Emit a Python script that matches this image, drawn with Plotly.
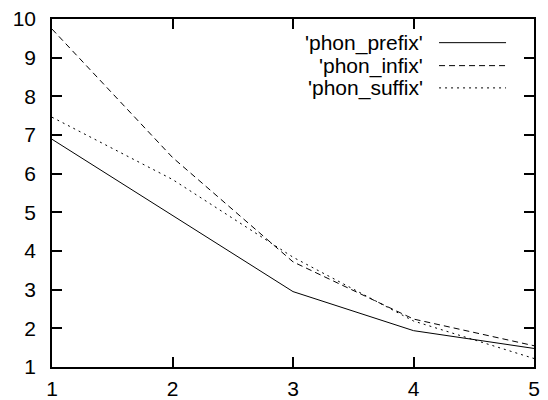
import plotly.graph_objects as go

x_vals = [1, 2, 3, 4, 5]
phon_prefix = [6.89, 4.92, 2.95, 1.94, 1.48]
phon_infix = [9.74, 6.42, 3.72, 2.24, 1.55]
phon_suffix = [7.46, 5.85, 3.84, 2.19, 1.22]
series_names = ["'phon_prefix'", "'phon_infix'", "'phon_suffix'"]
dashes = ["solid", "6px,4px", "2px,4px"]

FONT = "Liberation Sans, Arial, sans-serif"

fig = go.Figure()
for name, ys, d in zip(series_names, [phon_prefix, phon_infix, phon_suffix], dashes):
    fig.add_trace(go.Scatter(x=x_vals, y=ys, mode="lines", name=name,
                             line=dict(color="black", width=1, dash=d),
                             showlegend=False))

# manual gnuplot-style legend (text right-aligned, sample line to the right)
legend_y = [0.932, 0.866, 0.802]
for name, d, ly in zip(series_names, dashes, legend_y):
    fig.add_annotation(x=0.767, y=ly, xref="paper", yref="paper", text=name,
                       showarrow=False, xanchor="right", yanchor="middle",
                       xshift=3,
                       font=dict(family=FONT, size=21, color="black"))
    fig.add_shape(type="line", xref="paper", yref="paper", x0=0.803, x1=0.942,
                  y0=ly, y1=ly, line=dict(color="black", width=1, dash=d))

axis_common = dict(showgrid=False, zeroline=False, showline=True, linecolor="black",
                   linewidth=1.5, mirror="allticks", ticks="inside", ticklen=10,
                   tickwidth=1.5, tickcolor="black", automargin=False,
                   tickfont=dict(family=FONT, size=21, color="black"))

fig.update_layout(
    width=548, height=400,
    margin=dict(l=52, r=14, t=19, b=33),
    plot_bgcolor="white", paper_bgcolor="white",
    xaxis=dict(range=[1, 5], tickvals=x_vals, ticklabelstandoff=2, **axis_common),
    yaxis=dict(range=[1, 10], tickvals=list(range(1, 11)), ticklabelstandoff=10, **axis_common),
)
# remove the browser's default 8px body margin so the figure fills the window
fig.write_html("out.html", config={"displayModeBar": False},
               post_script="document.body.style.margin='0';document.body.style.overflow='hidden';")
